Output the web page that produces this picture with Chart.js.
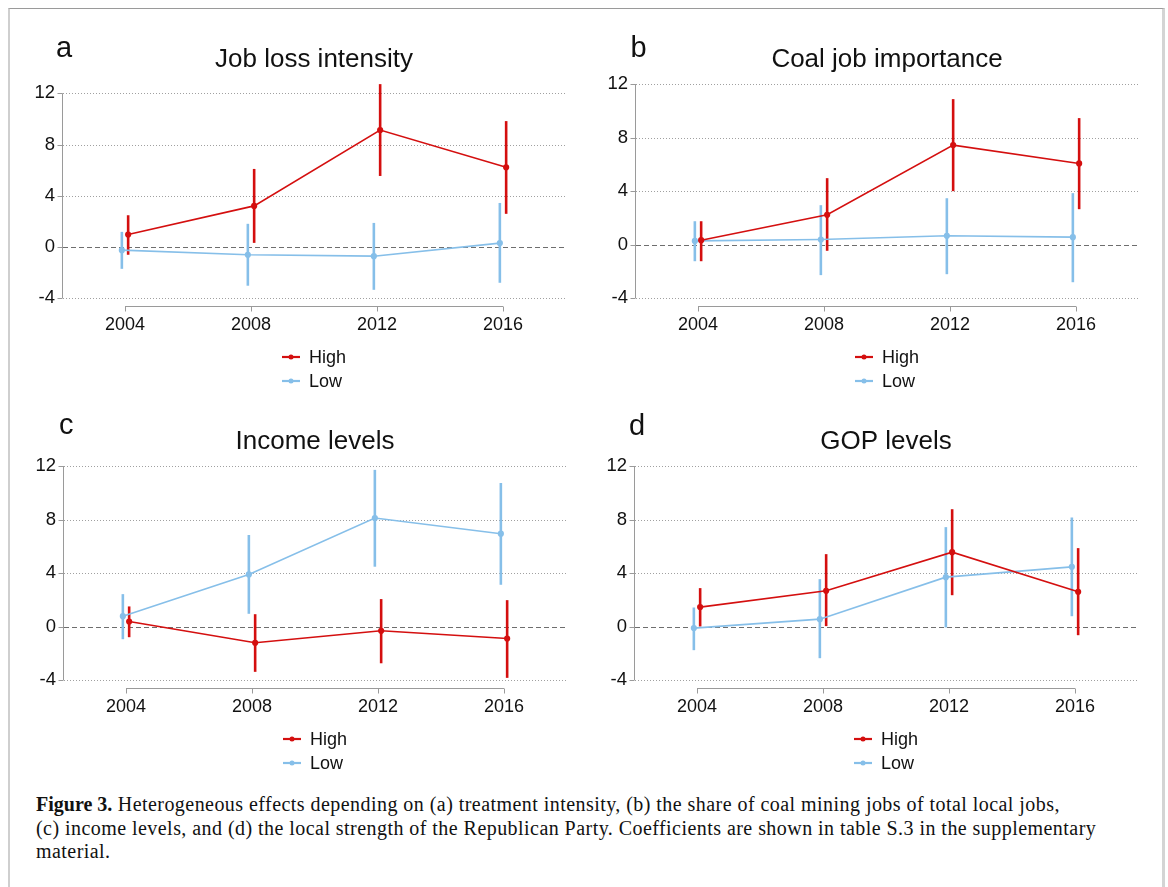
<!DOCTYPE html>
<html>
<head>
<meta charset="utf-8">
<script src="https://cdn.jsdelivr.net/npm/chart.js@4.4.1/dist/chart.umd.min.js"></script>
<style>
  body { margin: 0; background: #fff; width: 1168px; height: 887px; position: relative; overflow: hidden; }
  .frame { position: absolute; left: 8px; top: 8px; width: 1152px; height: 900px;
           border-top: 1px solid #9a9a9a; border-left: 2px solid #cfcfcf; border-right: 3px solid #d4d4d4; }
  canvas.panel { position: absolute; }
  .caption { position: absolute; left: 36px; top: 793px; width: 1120px; white-space: nowrap;
             font-family: 'Liberation Serif', serif; font-size: 20px; line-height: 23.5px; color: #111;
             letter-spacing: 0.45px; }
  .caption b { letter-spacing: 0; }
</style>
</head>
<body>
<div class="frame"></div>
<canvas id="pa" class="panel" width="575" height="390" style="left:8px;top:9.3px"></canvas>
<canvas id="pb" class="panel" width="575" height="390" style="left:581px;top:9.3px"></canvas>
<canvas id="pc" class="panel" width="575" height="390" style="left:9px;top:390.7px"></canvas>
<canvas id="pd" class="panel" width="575" height="390" style="left:580px;top:390.5px"></canvas>
<div class="caption"><b>Figure 3.</b> Heterogeneous effects depending on (a) treatment intensity, (b) the share of coal mining jobs of total local jobs,<br>(c) income levels, and (d) the local strength of the Republican Party. Coefficients are shown in table S.3 in the supplementary<br>material.</div>
<script>
// election years and y ticks shared by all panels
const years = [2004, 2008, 2012, 2016];
const yTicks = [-4, 0, 4, 8, 12];
const seriesNames = ['High', 'Low'];

// (a) job loss intensity
const jobLossHigh   = [0.96, 3.20, 9.13, 6.22];
const jobLossHighCI = [[-0.62, 2.47], [0.31, 6.09], [5.54, 12.72], [2.58, 9.83]];
const jobLossLow    = [-0.26, -0.62, -0.73, 0.29];
const jobLossLowCI  = [[-1.72, 1.17], [-3.04, 1.80], [-3.36, 1.87], [-2.81, 3.43]];

// (b) coal job importance
const coalHigh   = [0.32, 2.22, 7.43, 6.06];
const coalHighCI = [[-1.25, 1.74], [-0.47, 4.96], [3.99, 10.87], [2.64, 9.45]];
const coalLow    = [0.27, 0.37, 0.65, 0.55];
const coalLowCI  = [[-1.25, 1.74], [-2.29, 2.94], [-2.22, 3.46], [-2.82, 3.84]];

// (c) income levels
const incomeHigh   = [0.37, -1.22, -0.32, -0.90];
const incomeHighCI = [[-0.80, 1.50], [-3.39, 0.92], [-2.75, 2.05], [-3.84, 1.97]];
const incomeLow    = [0.77, 3.89, 8.11, 6.94];
const incomeLowCI  = [[-0.95, 2.42], [0.95, 6.84], [4.47, 11.71], [3.12, 10.73]];

// (d) GOP levels
const gopHigh   = [1.45, 2.67, 5.56, 2.59];
const gopHighCI = [[0.00, 2.87], [0.03, 5.41], [2.34, 8.77], [-0.65, 5.86]];
const gopLow    = [-0.12, 0.55, 3.69, 4.46];
const gopLowCI  = [[-1.77, 1.42], [-2.37, 3.54], [-0.07, 7.43], [0.77, 8.15]];

const RED = '#d40f0f';
const BLUE = '#86bfe9';
const FONT = "'Liberation Sans', Arial, sans-serif";
const xShift = [0.1, -0.1];   // High drawn a bit right of the year, Low a bit left

// Stata-ish frame: dotted grid, dashed zero line, offset x axis, error bars, title, legend
const decor = {
  id: 'decor',
  beforeDatasetsDraw(chart) {
    const { ctx, chartArea: a, scales: { x, y } } = chart;
    ctx.save();
    ctx.lineWidth = 1;
    yTicks.forEach(v => {
      const py = Math.round(y.getPixelForValue(v)) + 0.5;
      ctx.beginPath();
      ctx.setLineDash(v === 0 ? [5, 3] : [1, 2]);
      ctx.strokeStyle = v === 0 ? '#6e6e6e' : '#a0a0a0';
      ctx.moveTo(a.left + 1, py);
      ctx.lineTo(a.right, py);
      ctx.stroke();
    });
    ctx.setLineDash([]);
    ctx.strokeStyle = '#9a9a9a';

    // y axis only spans the tick range
    const ax = Math.round(a.left) + 0.5;
    ctx.beginPath();
    ctx.moveTo(ax, y.getPixelForValue(12));
    ctx.lineTo(ax, y.getPixelForValue(-4));
    yTicks.forEach(v => {
      const py = Math.round(y.getPixelForValue(v)) + 0.5;
      ctx.moveTo(ax - 5, py);
      ctx.lineTo(ax, py);
    });
    ctx.stroke();

    // x axis sits a little below the plot region
    const by = Math.round(a.bottom + 8) + 0.5;
    ctx.beginPath();
    ctx.moveTo(x.getPixelForValue(years[0]), by);
    ctx.lineTo(x.getPixelForValue(years[years.length - 1]), by);
    years.forEach(yr => {
      const px = Math.round(x.getPixelForValue(yr)) + 0.5;
      ctx.moveTo(px, by);
      ctx.lineTo(px, by + 5);
    });
    ctx.stroke();

    // confidence intervals
    ctx.lineWidth = 2.6;
    chart.data.datasets.forEach(ds => {
      ctx.strokeStyle = ds.borderColor;
      ds.ci.forEach(([lo, hi], j) => {
        const px = x.getPixelForValue(ds.data[j].x);
        ctx.beginPath();
        ctx.moveTo(px, y.getPixelForValue(lo));
        ctx.lineTo(px, y.getPixelForValue(hi));
        ctx.stroke();
      });
    });
    ctx.restore();
  },
  afterDraw(chart, args, opts) {
    const { ctx, chartArea: a } = chart;
    const cx = (a.left + a.right) / 2;
    ctx.save();
    ctx.fillStyle = '#111';
    ctx.textBaseline = 'alphabetic';
    ctx.font = `26px ${FONT}`;
    ctx.textAlign = 'center';
    ctx.fillText(opts.title, cx, a.top - 17.5);
    ctx.font = `29px ${FONT}`;
    ctx.textAlign = 'left';
    ctx.fillText(opts.letter, a.left + opts.letterDx, a.top - opts.letterDy);

    // legend stacked vertically under the x axis
    ctx.font = `18px ${FONT}`;
    ctx.textBaseline = 'middle';
    chart.data.datasets.forEach((ds, i) => {
      const ly = a.bottom + 59 + i * 24;
      ctx.strokeStyle = ds.borderColor;
      ctx.fillStyle = ds.borderColor;
      ctx.lineWidth = 2.2;
      ctx.beginPath();
      ctx.moveTo(cx - 32, ly);
      ctx.lineTo(cx - 14, ly);
      ctx.stroke();
      ctx.beginPath();
      ctx.arc(cx - 23, ly, 2.5, 0, Math.PI * 2);
      ctx.fill();
      ctx.fillStyle = '#111';
      ctx.fillText(ds.label, cx - 5, ly + 1);
    });
    ctx.restore();
  }
};

function series(name, color, est, ci, shift) {
  return {
    label: name,
    data: years.map((yr, j) => ({ x: yr + shift, y: est[j] })),
    ci,
    borderColor: color,
    backgroundColor: color,
    borderWidth: 1.6,
    pointRadius: 2.3,
    pointHoverRadius: 2.3,
    tension: 0
  };
}

function drawPanel(id, letter, title, yMax, high, highCI, low, lowCI, letterDx, letterDy) {
  const ctx = document.getElementById(id);
  return new Chart(ctx, {
    type: 'line',
    data: {
      datasets: [
        series(seriesNames[0], RED, high, highCI, xShift[0]),
        series(seriesNames[1], BLUE, low, lowCI, xShift[1])
      ]
    },
    options: {
      responsive: false,
      animation: false,
      devicePixelRatio: 1,
      layout: { padding: { left: 0, top: 75, right: 17, bottom: 61 } },
      scales: {
        x: {
          type: 'linear',
          min: 2002,
          max: 2018,
          afterBuildTicks: s => { s.ticks = years.map(v => ({ value: v })); },
          afterFit: s => { s.height = 40; },
          grid: { display: false, drawTicks: false },
          border: { display: false },
          ticks: {
            autoSkip: false,
            maxRotation: 0,
            padding: 16,
            color: '#111',
            font: { family: FONT, size: 18 },
            callback: v => String(v)
          }
        },
        y: {
          min: -4,
          max: yMax,
          afterBuildTicks: s => { s.ticks = yTicks.map(v => ({ value: v })); },
          afterFit: s => { s.width = 54; },
          grid: { display: false, drawTicks: false },
          border: { display: false },
          ticks: {
            padding: 7,
            color: '#111',
            font: { family: FONT, size: 18.5 },
            callback: v => String(v)
          }
        }
      },
      plugins: {
        legend: { display: false },
        title: { display: false },
        tooltip: { enabled: false },
        decor: { letter, title, letterDx, letterDy }
      }
    },
    plugins: [decor]
  });
}

drawPanel('pa', 'a', 'Job loss intensity', 12.73, jobLossHigh, jobLossHighCI, jobLossLow, jobLossLowCI, -6, 27);
drawPanel('pb', 'b', 'Coal job importance', 12, coalHigh, coalHighCI, coalLow, coalLowCI, -4.5, 26.6);
drawPanel('pc', 'c', 'Income levels', 12, incomeHigh, incomeHighCI, incomeLow, incomeLowCI, -4, 31.7);
drawPanel('pd', 'd', 'GOP levels', 12, gopHigh, gopHighCI, gopLow, gopLowCI, -5, 31.5);
</script>
</body>
</html>
